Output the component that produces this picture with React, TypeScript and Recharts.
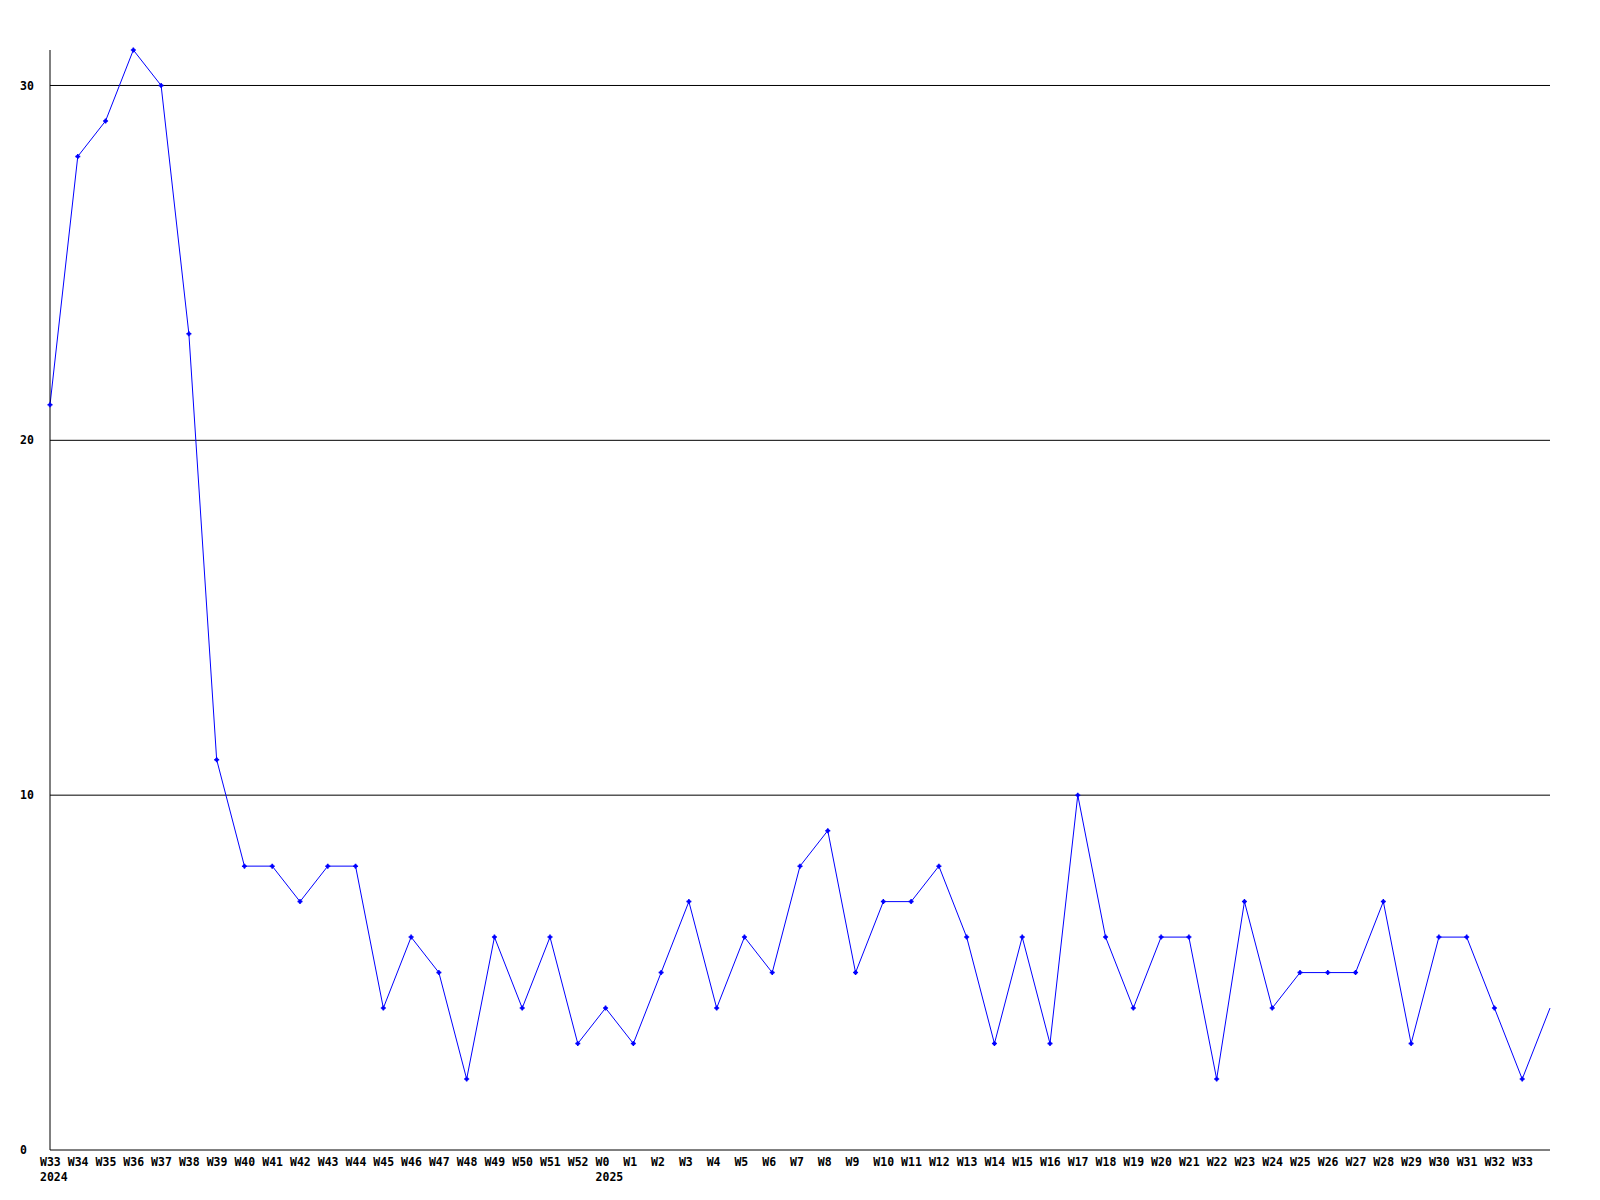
import React from "react";
import { LineChart, Line, XAxis, YAxis, ReferenceLine } from "recharts";

// weekly counts, W33 2024 -> W34 2025 (last point sits on the right edge, unlabeled)
const weeks = [
  "W33", "W34", "W35", "W36", "W37", "W38", "W39", "W40", "W41", "W42",
  "W43", "W44", "W45", "W46", "W47", "W48", "W49", "W50", "W51", "W52",
  "W0", "W1", "W2", "W3", "W4", "W5", "W6", "W7", "W8", "W9",
  "W10", "W11", "W12", "W13", "W14", "W15", "W16", "W17", "W18", "W19",
  "W20", "W21", "W22", "W23", "W24", "W25", "W26", "W27", "W28", "W29",
  "W30", "W31", "W32", "W33", "",
];

const counts = [
  21, 28, 29, 31, 30, 23, 11, 8, 8, 7,
  8, 8, 4, 6, 5, 2, 6, 4, 6, 3,
  4, 3, 5, 7, 4, 6, 5, 8, 9, 5,
  7, 7, 8, 6, 3, 6, 3, 10, 6, 4,
  6, 6, 2, 7, 4, 5, 5, 5, 7, 3,
  6, 6, 4, 2, 4,
];

// year label shown under the first week of each year
const yearMarks: Record<number, string> = { 0: "2024", 20: "2025" };

const yTicks = [0, 10, 20, 30];
const gridValues = [10, 20, 30];

const FONT = "'DejaVu Sans Mono', monospace";

const data = counts.map((v, i) => ({ i, v, week: weeks[i] }));
const xTicks = weeks.map((w, i) => i).filter((i) => weeks[i] !== "");

const WeekTick = ({ x, y, payload }: any) => {
  const idx = payload.value;
  const year = yearMarks[idx];
  return (
    <g>
      <text x={x - 10} y={y} dy="0.71em" fontFamily={FONT} fontWeight="bold" fontSize={11.5} fill="#000">
        {weeks[idx]}
      </text>
      {year && (
        <text x={x - 10} y={y + 15} dy="0.71em" fontFamily={FONT} fontWeight="bold" fontSize={11.5} fill="#000">
          {year}
        </text>
      )}
    </g>
  );
};

const ValueTick = ({ y, payload }: any) => (
  <text x={20} y={y} dy="0.35em" textAnchor="start" fontFamily={FONT} fontWeight="bold" fontSize={11.5} fill="#000">
    {payload.value}
  </text>
);

const PlusDot = ({ cx, cy, index }: any) => {
  if (index === counts.length - 1) return <g key={index} />;
  return (
    <g key={index}>
      <path d={`M${cx - 2.5},${cy}H${cx + 2.5}M${cx},${cy - 2.5}V${cy + 2.5}`} stroke="#0000ff" strokeWidth={1.5} />
      <rect x={cx - 1.5} y={cy - 1.5} width={3} height={3} fill="#0000ff" />
    </g>
  );
};

export default function App() {
  return (
    <div style={{ position: "absolute", left: 0, top: 0, width: 1600, height: 1200, background: "#fff" }}>
      <LineChart width={1600} height={1200} data={data} margin={{ top: 50, right: 50, left: 0, bottom: 0 }}>
        <XAxis
          dataKey="i"
          type="number"
          domain={[0, counts.length - 1]}
          ticks={xTicks}
          interval={0}
          tickLine={false}
          axisLine={{ stroke: "#000", strokeWidth: 1 }}
          tick={<WeekTick />}
          height={50}
        />
        <YAxis
          domain={[0, 31]}
          ticks={yTicks}
          interval={0}
          tickLine={false}
          axisLine={{ stroke: "#000", strokeWidth: 1 }}
          tick={<ValueTick />}
          width={50}
        />
        {gridValues.map((g) => (
          <ReferenceLine key={g} y={g} stroke="#000" strokeWidth={1} />
        ))}
        <Line
          type="linear"
          dataKey="v"
          stroke="#0000ff"
          strokeWidth={1}
          dot={<PlusDot />}
          activeDot={false}
          isAnimationActive={false}
        />
      </LineChart>
    </div>
  );
}
